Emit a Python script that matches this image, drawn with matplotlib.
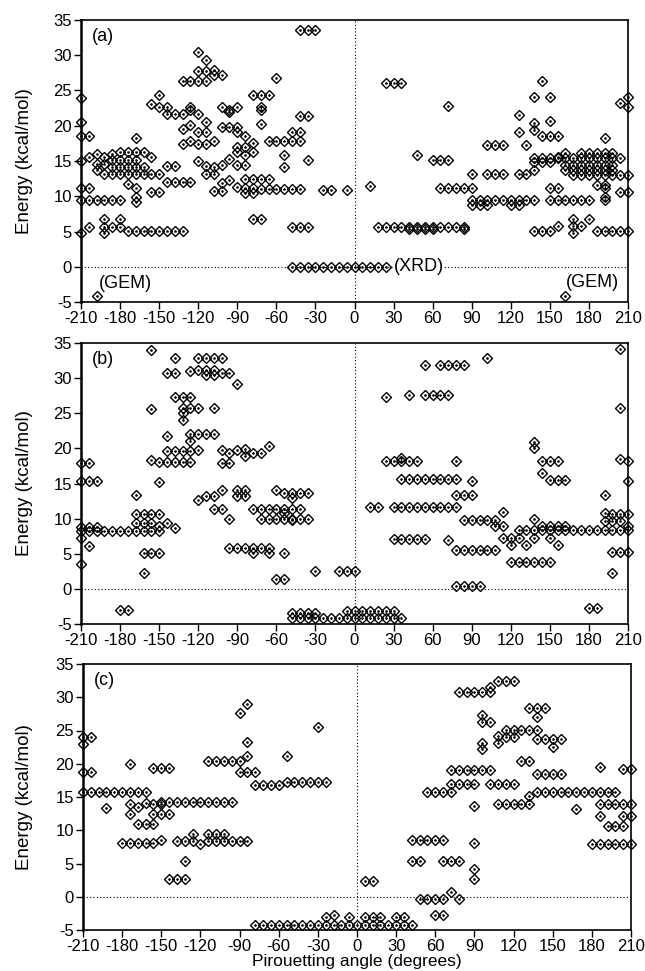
import matplotlib
matplotlib.use("Agg")
import matplotlib.pyplot as plt

plt.rcParams['font.family'] = ['Liberation Sans', 'DejaVu Sans']
plt.rcParams['axes.unicode_minus'] = False

# ---------------- data: (energy, [angles]) rows ----------------
panel_a = [
    (23.9, [-210]), (20.5, [-210]), (18.6, [-210, -204]), (15.0, [-210]),
    (11.1, [-210, -204]), (9.4, [-210, -204, -198, -192, -186, -180]),
    (4.8, [-210, -192]), (15.6, [-204, -192]), (5.6, [-204, -192, -186, -180]),
    (16.0, [-198, -186]), (14.6, [-198, -192]), (13.7, [-198]), (6.8, [-192, -180]),
    (-4.2, [-198]),
    (16.3, [-180, -174, -168, -162]), (15.2, [-186, -180, -174, -168]),
    (14.1, [-186, -180, -174, -168, -162]),
    (13.1, [-192, -186, -180, -174, -168, -162, -156, -150]),
    (11.8, [-174]), (11.1, [-168]), (9.9, [-168]), (9.2, [-168]), (18.2, [-168]),
    (5.1, [-174, -168, -162, -156, -150, -144, -138, -132]),
    (15.6, [-156]), (10.6, [-156, -150]), (23.1, [-156]), (24.3, [-150]),
    (22.6, [-150, -144]), (21.7, [-144, -138, -132]), (14.3, [-144, -138]),
    (12.0, [-144, -138, -132, -126]), (26.3, [-132, -126, -120, -114]),
    (19.6, [-132]), (17.4, [-132, -120, -114]), (20.1, [-126]), (17.9, [-126, -108]),
    (22.2, [-126]), (22.7, [-126]), (30.5, [-120]), (27.7, [-120, -114]),
    (21.7, [-120]), (19.1, [-120, -114]), (15.0, [-120]), (29.3, [-114]),
    (20.5, [-114]), (14.3, [-114]), (13.2, [-114, -108]), (27.9, [-108]),
    (27.2, [-108, -102]), (14.1, [-108]), (10.8, [-108, -102]), (22.7, [-102]),
    (19.8, [-102, -96, -90]), (14.4, [-102]), (11.9, [-102]), (22.2, [-96]),
    (21.9, [-96]), (15.3, [-96]), (12.3, [-96]), (22.6, [-90]), (19.1, [-90]),
    (17.0, [-90, -84]), (16.3, [-90, -78]), (14.5, [-90]), (11.3, [-90]),
    (18.6, [-84]), (15.8, [-84]), (14.4, [-84]), (12.5, [-84, -78, -72, -66]),
    (11.1, [-84, -78]), (10.4, [-84, -78]), (24.3, [-78, -72, -66]), (17.5, [-78]),
    (6.8, [-78, -72]), (22.7, [-72]), (22.2, [-72]), (20.3, [-72]),
    (11.0, [-72, -66, -60, -54, -48, -42]), (17.9, [-66, -60, -54, -48, -42]),
    (26.8, [-60]), (15.8, [-54]), (14.1, [-54]), (19.1, [-48, -42]),
    (0.0, [-48, -42, -36, -30, -24, -18, -12, -6, 0, 6, 12, 18, 24]),
    (33.6, [-42, -36, -30]), (5.6, [-48, -42, -36]), (21.4, [-42, -36]),
    (15.1, [-36]), (10.9, [-24, -18, -6]), (11.4, [12]), (26.1, [24, 30, 36]),
    (5.6, [18, 24, 30, 36, 42, 48, 54, 60, 66, 72, 78, 84]),
    (5.4, [42, 48, 54, 60, 84]), (15.8, [48]), (15.1, [60, 66, 72]), (22.8, [72]),
    (11.2, [66, 72, 78, 84, 90]), (13.2, [90, 102, 108, 114, 126, 132]),
    (13.7, [138]), (9.5, [90, 96, 102, 108, 114, 120, 126, 132, 138]),
    (8.8, [90, 96, 102, 120, 126]), (17.2, [102, 108, 114, 132]),
    (21.5, [126]), (19.1, [126]), (24.1, [138, 150]), (26.3, [144]),
    (20.4, [138]), (19.4, [138]), (18.6, [144, 150, 156]), (20.7, [150]),
    (14.9, [138, 144, 150]), (15.6, [156]),
    (16.2, [162, 174, 180, 186, 192, 198]),
    (15.4, [138, 144, 150, 156, 162, 168, 174, 180, 186, 192, 198, 204]),
    (14.4, [162, 168, 174, 180, 186, 192, 198]),
    (13.7, [162, 168, 174, 180, 186, 192, 198]),
    (13.0, [168, 174, 180, 186, 192, 198, 204, 210]),
    (11.6, [186, 192]), (24.1, [210]), (22.6, [210]), (23.2, [204]), (18.2, [192]),
    (11.1, [150, 156, 192]), (9.9, [192]),
    (9.5, [150, 156, 162, 168, 174, 180, 192]), (10.6, [204, 210]),
    (5.1, [138, 144, 150, 186, 192, 198, 204, 210]), (5.8, [156, 168, 174]),
    (6.8, [168, 180]), (4.8, [168]), (-4.1, [162]),
]

panel_b = [
    (17.9, [-210, -204]), (15.3, [-210, -204, -198]), (8.8, [-210, -204, -198]),
    (8.2, [-210, -204, -198, -192, -186, -180, -174, -168, -162, -156, -150]),
    (7.2, [-210]), (3.6, [-210]), (6.1, [-204]), (-3.0, [-180, -174]),
    (13.3, [-168]), (10.6, [-168, -162, -156, -150]), (9.4, [-168, -162, -156, -144]),
    (5.1, [-162, -156, -150]), (2.3, [-162]),
    (34.0, [-156]), (25.6, [-156]), (18.4, [-156]),
    (18.0, [-150, -144, -138, -132, -126]), (15.2, [-150]), (8.9, [-150]),
    (30.7, [-144, -138]), (21.7, [-144]), (19.6, [-144, -138, -132, -126]),
    (32.9, [-138]), (27.3, [-138, -132, -126]), (8.7, [-138]),
    (25.7, [-132, -126, -120, -108]), (25.0, [-132]), (24.1, [-132]),
    (31.0, [-126]), (22.0, [-126, -120, -114, -108]), (21.0, [-126]),
    (32.9, [-120, -114, -108, -102]), (31.2, [-120, -114, -108]),
    (30.4, [-114, -108]), (30.7, [-102, -96]), (19.7, [-120]), (12.7, [-120]),
    (13.2, [-114, -108]), (11.3, [-108, -102]), (14.1, [-102]), (19.7, [-102]),
    (17.9, [-102, -96]), (19.3, [-96]), (10.0, [-96]),
    (5.8, [-96, -90, -84, -78, -72, -66]),
    (29.1, [-90]), (19.7, [-90]), (14.1, [-90, -84]), (13.2, [-90, -84]),
    (19.9, [-84]), (18.9, [-84]), (19.3, [-78, -72]),
    (11.4, [-78, -72, -66, -60, -54, -48, -42]), (5.1, [-78, -66, -54]),
    (10.0, [-72, -66, -60, -54, -48, -42, -36]), (20.3, [-66]), (14.1, [-60]),
    (1.4, [-60, -54]), (13.6, [-54, -48, -42, -36]), (10.8, [-54]), (13.0, [-48]),
    (9.8, [-48]), (2.5, [-30, -12, -6, 0]),
    (-3.5, [-48, -42, -36, -30]),
    (-4.2, [-48, -42, -36, -30, -24, -18, -12, -6, 0, 6, 12, 18, 24, 30, 36]),
    (-3.2, [-6, 0, 6, 12, 18, 24, 30]),
    (34.1, [204]), (32.9, [102]), (31.9, [54, 66, 72, 78, 84]), (27.3, [24]),
    (27.6, [42, 54, 60, 66, 72]), (25.7, [204]), (20.9, [138]), (20.0, [138]),
    (18.2, [24, 30, 36, 42, 48, 78, 144, 150, 156, 210]), (18.6, [36]),
    (18.5, [204]), (16.5, [144]), (15.5, [150, 156, 162]),
    (15.6, [36, 42, 48, 54, 60, 66, 72, 78]), (15.3, [90, 210]),
    (13.4, [78, 84, 90, 192]),
    (11.7, [12, 18, 30, 36, 42, 48, 54, 60, 66, 72, 78]), (11.0, [114]),
    (9.8, [84, 90, 96, 102, 108]), (8.9, [108, 114, 210]), (9.9, [138]),
    (8.4, [126, 132, 138, 144, 150, 156, 162, 168, 174, 180, 186, 192, 198, 204, 210]),
    (9.0, [144, 150, 156, 162]), (7.3, [114, 120, 126, 138, 150]),
    (6.2, [120, 132]), (6.3, [156]), (7.0, [72]), (7.1, [30, 36, 42, 48, 54]),
    (5.6, [78, 84, 90, 96, 102, 108]), (3.8, [120, 126, 132, 138, 144, 150]),
    (2.3, [198]), (5.3, [198, 204, 210]), (0.4, [78, 84, 90, 96]),
    (-2.7, [180, 186]), (10.8, [192]), (10.6, [198, 204, 210]),
    (9.6, [192, 198, 204]),
]

panel_c = [
    (24.0, [-210, -204]), (22.9, [-210]), (18.7, [-210, -204]),
    (15.8, [-210, -204, -198, -192, -186, -180, -174, -168, -162]),
    (13.4, [-192]), (8.1, [-180, -174, -168, -162, -156]), (19.9, [-174]),
    (13.9, [-174, -156, -150]), (12.4, [-174, -156, -150, -144]), (13.5, [-168]),
    (10.9, [-168, -162, -156]), (14.1, [-162]), (19.4, [-156, -150, -144]),
    (14.3, [-150, -144, -138, -132, -126, -120, -114, -108, -102, -96]),
    (8.5, [-150]), (2.7, [-144, -138, -132]),
    (8.4, [-138, -132, -126, -114, -108, -102, -96, -90, -84]),
    (5.4, [-132]), (9.4, [-126, -114, -108, -102]), (8.0, [-120]),
    (20.4, [-114, -108, -102, -96, -90]), (27.6, [-90]),
    (18.8, [-90, -84, -78]), (29.0, [-84]), (23.3, [-84]), (21.2, [-84, -54]),
    (16.8, [-78, -72, -66, -60]), (17.2, [-54, -48, -42, -36, -30, -24]),
    (25.5, [-30]),
    (-4.2, [-78, -72, -66, -60, -54, -48, -42, -36, -30, -24, -18, -12, -6, 0,
            6, 12, 18, 24, 30, 36, 42]),
    (-3.0, [-24, -6, 6, 12, 18, 30, 36]), (-2.7, [-18]),
    (30.8, [78, 84, 90, 96, 102]), (31.6, [102]), (32.4, [108, 114, 120]),
    (28.4, [132, 138, 144]), (27.0, [138]), (27.4, [96]), (26.3, [96, 102]),
    (23.1, [96, 108]), (22.2, [96]), (24.1, [108]),
    (25.1, [114, 120, 126, 132, 138]), (24.0, [114, 120]),
    (23.7, [138, 144, 150, 156]), (22.5, [150]), (20.4, [126, 132]),
    (18.5, [138, 144, 150, 156]), (19.5, [186]), (19.2, [204, 210]),
    (19.0, [72, 78, 84, 90, 96, 102]),
    (16.9, [72, 78, 84, 90, 102, 108, 114, 120]), (15.8, [54, 60, 66, 72]),
    (15.7, [138, 144, 150, 156, 162, 168, 174, 180, 186, 192, 198]),
    (15.2, [132]), (14.0, [108, 114, 120, 126, 132, 186, 192, 198, 204, 210]),
    (13.7, [90]), (13.2, [168]), (12.2, [186, 204, 210]),
    (10.7, [192, 198, 204]), (8.0, [180, 186, 192, 198, 204, 210]), (8.1, [90]),
    (8.6, [42, 48, 54, 60, 66]), (5.4, [42, 48, 66, 72, 78]), (4.1, [90]),
    (2.6, [90]), (2.3, [6, 12]), (-0.3, [48, 54, 60, 66]), (0.7, [72]),
    (-0.4, [78]), (-2.7, [60, 66]),
]

panel_labels = ['(a)', '(b)', '(c)']
xticks = [-210, -180, -150, -120, -90, -60, -30, 0, 30, 60, 90, 120, 150, 180, 210]
yticks = [-5, 0, 5, 10, 15, 20, 25, 30, 35]
ylabel = 'Energy (kcal/mol)'
xlabel = 'Pirouetting angle (degrees)'

# ---------------- figure ----------------
W, H = 645, 971
fig = plt.figure(figsize=(W / 100, H / 100), dpi=100)

boxes = [  # left, top, right, bottom in pixels
    (81, 20, 628, 302),
    (81, 343, 628, 624),
    (83, 664, 631, 930),
]

FS = 12
for i, (rows, lab, box) in enumerate(zip([panel_a, panel_b, panel_c], panel_labels, boxes)):
    l, t, r, b = box
    ax = fig.add_axes([l / W, 1 - b / H, (r - l) / W, (b - t) / H])
    xs, ys = [], []
    for yv, xv in rows:
        for xx in xv:
            xs.append(xx)
            ys.append(yv)
    ax.axhline(0, color='black', lw=0.8, ls=(0, (1, 2)), zorder=1)
    ax.axvline(0, color='black', lw=0.8, ls=(0, (1, 2)), zorder=1)
    ax.plot(xs, ys, ls='none', marker='D', ms=4.7, mfc='none', mec='black',
            mew=1.0, clip_on=False, zorder=3)
    ax.plot(xs, ys, ls='none', marker='o', ms=0.9, color='black',
            clip_on=False, zorder=3)
    ax.set_xlim(-210, 210)
    ax.set_ylim(-5, 35)
    ax.set_xticks(xticks)
    ax.set_yticks(yticks)
    ax.tick_params(direction='out', length=5, width=1.0, labelsize=FS, pad=1.5)
    for s in ax.spines.values():
        s.set_linewidth(1.2)
    ax.spines['left'].set_linewidth(1.8)
    ax.set_ylabel(ylabel, fontsize=13.5)
    ax.yaxis.set_label_coords((33 - l) / (r - l), 0.5)
    ax.text(0.02, 0.97, lab, transform=ax.transAxes, ha='left', va='top', fontsize=13)
    if i == 0:
        ax.text(-176, -2.4, '(GEM)', ha='center', va='center', fontsize=13)
        ax.text(183, -2.3, '(GEM)', ha='center', va='center', fontsize=13)
        ax.text(30, 0, '(XRD)', ha='left', va='center', fontsize=13,
                bbox=dict(facecolor='white', edgecolor='none', pad=0.5), zorder=4)
    if i == 2:
        ax.set_xlabel(xlabel, fontsize=12.5, labelpad=0)

fig.savefig('out.png', dpi=100)
